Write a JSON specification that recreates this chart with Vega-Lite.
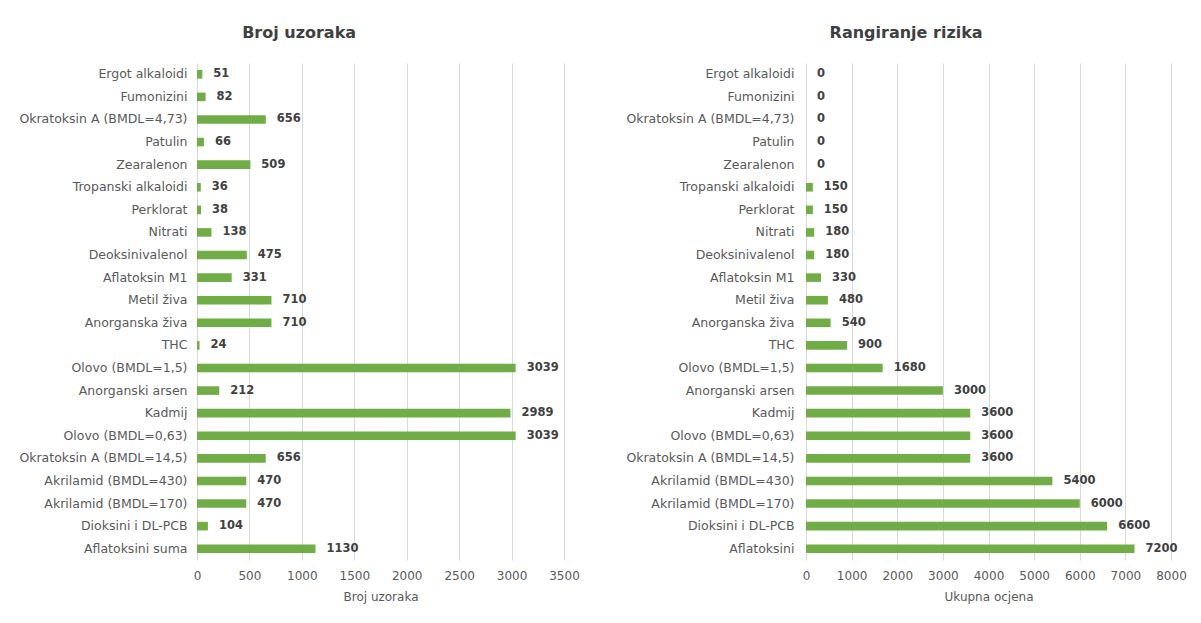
{
  "$schema": "https://vega.github.io/schema/vega-lite/v6.json",
  "background": "white",
  "padding": {"left": 18, "top": 25, "right": 5, "bottom": 5},
  "spacing": 45,
  "datasets": {
    "uzorci": [
      {"naziv": "Ergot alkaloidi", "broj": 51},
      {"naziv": "Fumonizini", "broj": 82},
      {"naziv": "Okratoksin A (BMDL=4,73)", "broj": 656},
      {"naziv": "Patulin", "broj": 66},
      {"naziv": "Zearalenon", "broj": 509},
      {"naziv": "Tropanski alkaloidi", "broj": 36},
      {"naziv": "Perklorat", "broj": 38},
      {"naziv": "Nitrati", "broj": 138},
      {"naziv": "Deoksinivalenol", "broj": 475},
      {"naziv": "Aflatoksin M1", "broj": 331},
      {"naziv": "Metil živa", "broj": 710},
      {"naziv": "Anorganska živa", "broj": 710},
      {"naziv": "THC", "broj": 24},
      {"naziv": "Olovo (BMDL=1,5)", "broj": 3039},
      {"naziv": "Anorganski arsen", "broj": 212},
      {"naziv": "Kadmij", "broj": 2989},
      {"naziv": "Olovo (BMDL=0,63)", "broj": 3039},
      {"naziv": "Okratoksin A (BMDL=14,5)", "broj": 656},
      {"naziv": "Akrilamid (BMDL=430)", "broj": 470},
      {"naziv": "Akrilamid (BMDL=170)", "broj": 470},
      {"naziv": "Dioksini i DL-PCB", "broj": 104},
      {"naziv": "Aflatoksini suma", "broj": 1130}
    ],
    "rizik": [
      {"naziv": "Ergot alkaloidi", "ocjena": 0},
      {"naziv": "Fumonizini", "ocjena": 0},
      {"naziv": "Okratoksin A (BMDL=4,73)", "ocjena": 0},
      {"naziv": "Patulin", "ocjena": 0},
      {"naziv": "Zearalenon", "ocjena": 0},
      {"naziv": "Tropanski alkaloidi", "ocjena": 150},
      {"naziv": "Perklorat", "ocjena": 150},
      {"naziv": "Nitrati", "ocjena": 180},
      {"naziv": "Deoksinivalenol", "ocjena": 180},
      {"naziv": "Aflatoksin M1", "ocjena": 330},
      {"naziv": "Metil živa", "ocjena": 480},
      {"naziv": "Anorganska živa", "ocjena": 540},
      {"naziv": "THC", "ocjena": 900},
      {"naziv": "Olovo (BMDL=1,5)", "ocjena": 1680},
      {"naziv": "Anorganski arsen", "ocjena": 3000},
      {"naziv": "Kadmij", "ocjena": 3600},
      {"naziv": "Olovo (BMDL=0,63)", "ocjena": 3600},
      {"naziv": "Okratoksin A (BMDL=14,5)", "ocjena": 3600},
      {"naziv": "Akrilamid (BMDL=430)", "ocjena": 5400},
      {"naziv": "Akrilamid (BMDL=170)", "ocjena": 6000},
      {"naziv": "Dioksini i DL-PCB", "ocjena": 6600},
      {"naziv": "Aflatoksini", "ocjena": 7200}
    ]
  },
  "hconcat": [
    {
      "data": {"name": "uzorci"},
      "width": 367,
      "height": 497,
      "title": {"text": "Broj uzoraka", "fontSize": 16, "fontWeight": "bold", "color": "#404040", "anchor": "middle", "frame": "bounds", "offset": 22},
      "encoding": {
        "y": {"field": "naziv", "type": "nominal", "sort": null,
          "scale": {"paddingInner": 0.62, "paddingOuter": 0.31},
          "axis": {"title": null, "labelFontSize": 12.5, "labelColor": "#595959", "ticks": false, "tickSize": 0, "domain": false, "labelPadding": 10, "labelLimit": 300}},
        "x": {"field": "broj", "type": "quantitative",
          "scale": {"domain": [0, 3500], "nice": false},
          "axis": {"title": "Broj uzoraka", "values": [0, 500, 1000, 1500, 2000, 2500, 3000, 3500], "format": "d", "labelOverlap": false, "labelFlush": false, "grid": true, "gridColor": "#d9d9d9", "domain": false, "ticks": false, "tickSize": 0, "labelFontSize": 12, "labelColor": "#595959", "labelPadding": 10, "titleFontSize": 12, "titleFontWeight": "normal", "titleColor": "#595959", "titlePadding": 10}}
      },
      "layer": [
        {"mark": {"type": "bar", "color": "#70AD47"}},
        {"mark": {"type": "text", "align": "left", "baseline": "middle", "dx": 11, "fontSize": 11.5, "fontWeight": "bold", "color": "#404040"},
          "encoding": {"text": {"field": "broj", "type": "quantitative", "format": "d"}}}
      ]
    },
    {
      "data": {"name": "rizik"},
      "width": 365,
      "height": 497,
      "title": {"text": "Rangiranje rizika", "fontSize": 16, "fontWeight": "bold", "color": "#404040", "anchor": "middle", "frame": "bounds", "offset": 22},
      "encoding": {
        "y": {"field": "naziv", "type": "nominal", "sort": null,
          "scale": {"paddingInner": 0.62, "paddingOuter": 0.31},
          "axis": {"title": null, "labelFontSize": 12.5, "labelColor": "#595959", "ticks": false, "tickSize": 0, "domain": false, "labelPadding": 12, "labelLimit": 300}},
        "x": {"field": "ocjena", "type": "quantitative",
          "scale": {"domain": [0, 8000], "nice": false},
          "axis": {"title": "Ukupna ocjena", "values": [0, 1000, 2000, 3000, 4000, 5000, 6000, 7000, 8000], "format": "d", "labelOverlap": false, "labelFlush": false, "grid": true, "gridColor": "#d9d9d9", "domain": false, "ticks": false, "tickSize": 0, "labelFontSize": 12, "labelColor": "#595959", "labelPadding": 10, "titleFontSize": 12, "titleFontWeight": "normal", "titleColor": "#595959", "titlePadding": 10}}
      },
      "layer": [
        {"mark": {"type": "bar", "color": "#70AD47"}},
        {"mark": {"type": "text", "align": "left", "baseline": "middle", "dx": 11, "fontSize": 11.5, "fontWeight": "bold", "color": "#404040"},
          "encoding": {"text": {"field": "ocjena", "type": "quantitative", "format": "d"}}}
      ]
    }
  ],
  "config": {
    "font": "DejaVu Sans",
    "view": {"stroke": null}
  }
}
